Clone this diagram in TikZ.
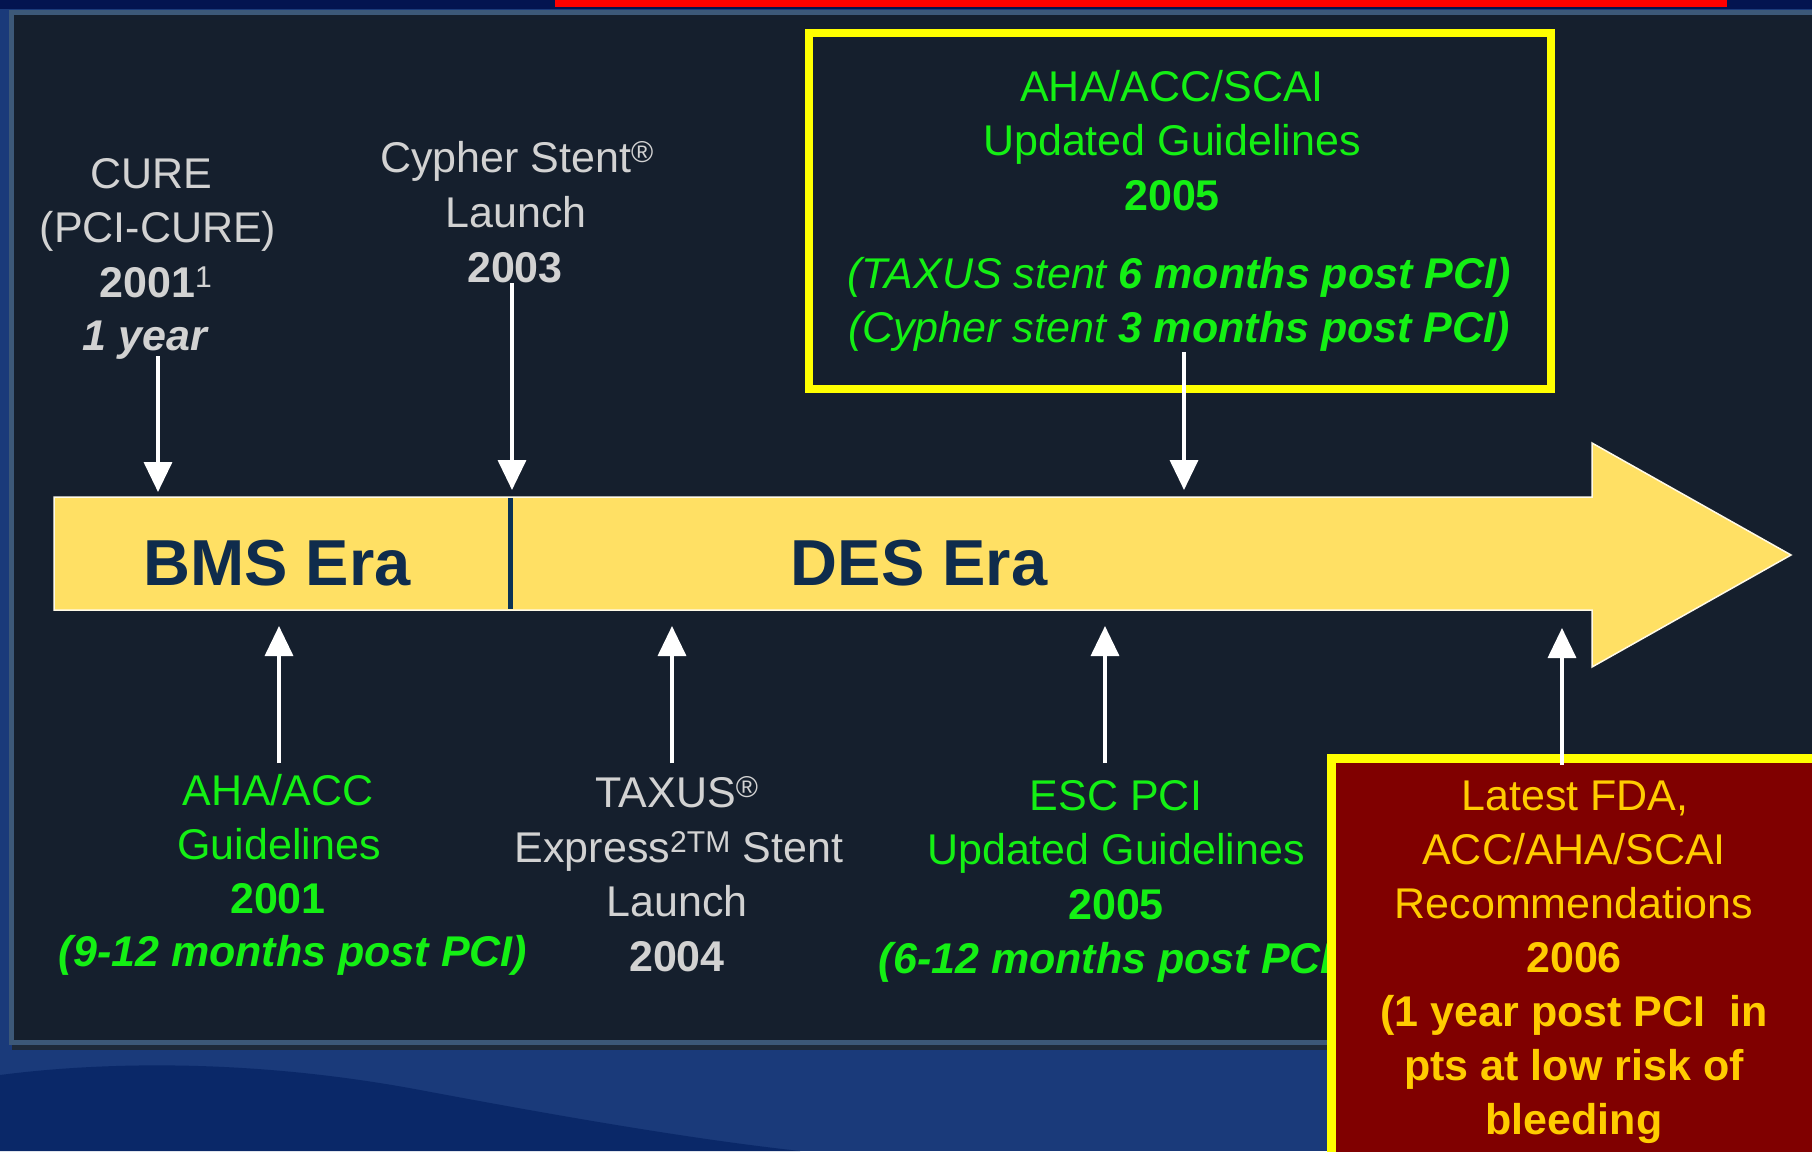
\documentclass[tikz,border=0pt]{standalone}
\usepackage{fontspec}
\setmainfont{Liberation Sans}
\usetikzlibrary{arrows.meta}
\definecolor{navytop}{RGB}{3,20,80}
\definecolor{bgblue}{RGB}{26,58,122}
\definecolor{wavecol}{RGB}{10,40,104}
\definecolor{panelcol}{RGB}{21,31,45}
\definecolor{panelrim}{RGB}{60,88,120}
\definecolor{panelshadow}{RGB}{30,42,58}
\definecolor{barred}{RGB}{255,0,0}
\definecolor{arrowyellow}{RGB}{255,224,100}
\definecolor{dividercol}{RGB}{10,50,85}
\definecolor{eratext}{RGB}{15,44,76}
\definecolor{graytextcol}{RGB}{210,210,210}
\definecolor{greentextcol}{RGB}{20,240,20}
\definecolor{boxyellow}{RGB}{255,255,0}
\definecolor{boxred}{RGB}{128,0,0}
\definecolor{goldtextcol}{RGB}{255,204,0}
\begin{document}
\begin{tikzpicture}[x=1pt,y=-1pt,
  txtline/.style={anchor=base,inner sep=0pt,font=\fontsize{43}{54}\selectfont},
  graytxt/.style={txtline,text=graytextcol},
  greentxt/.style={txtline,text=greentextcol},
  goldtxt/.style={txtline,text=goldtextcol},
  eralabel/.style={anchor=base,inner sep=0pt,text=eratext,font=\fontsize{65}{70}\selectfont\bfseries},
  evtarrow/.style={draw=white,line width=3.5pt,-{Triangle[width=28pt,length=30pt]}},
]
\useasboundingbox (0,0) rectangle (1812,1151);
% background
\fill[bgblue] (0,0) rectangle (1812,1151);
\fill[wavecol] (0,1075) .. controls (100,1062) and (250,1058) .. (420,1090) .. controls (580,1120) and (700,1140) .. (800,1151) -- (0,1151) -- cycle;
\fill[navytop] (0,0) rectangle (1812,9);
\fill[barred] (555,0) rectangle (1727,7);
% panel
\fill[panelshadow] (12,1043) rectangle (1812,1050);
\filldraw[fill=panelcol,draw=panelrim,line width=5pt] (11.5,12) rectangle (1830,1042);
% timeline arrow
\filldraw[fill=arrowyellow,draw=white!85!arrowyellow,line width=1.5pt]
  (54,497) -- (1592,497) -- (1592,443) -- (1791,555) -- (1592,667) -- (1592,610) -- (54,610) -- cycle;
\draw[dividercol,line width=5pt] (510,498) -- (510,609);
\node[eralabel] (bms) at (277,585) {BMS Era};
\node[eralabel] (des) at (919,585) {DES Era};
% CURE
\node[graytxt] (cure1) at (151,188) {CURE};
\node[graytxt] (cure2) at (158,242) {(PCI-CURE)};
\node[graytxt] (cure3) at (156,297) {\textbf{2001}\textsuperscript{1}};
\node[graytxt] (cure4) at (146,350) {\textbf{\textit{1 year}}};
% Cypher
\node[graytxt] (cy1) at (517,172) {Cypher Stent\textsuperscript{®}};
\node[graytxt] (cy2) at (516,227) {Launch};
\node[graytxt] (cy3) at (515,282) {\textbf{2003}};
% top box
\draw[boxyellow,line width=8pt] (809,33) rectangle (1551,389);
\node[greentxt] (ah1) at (1172,101) {AHA/ACC/SCAI};
\node[greentxt] (ah2) at (1172,155) {Updated Guidelines};
\node[greentxt] (ah3) at (1172,210) {\textbf{2005}};
\node[greentxt] (ah4) at (1179,288) {\textit{(TAXUS stent \textbf{6 months post PCI)}}};
\node[greentxt] (ah5) at (1179,342) {\textit{(Cypher stent \textbf{3 months post PCI)}}};
% bottom labels
\node[greentxt] (aa1) at (278,805) {AHA/ACC};
\node[greentxt] (aa2) at (279,859) {Guidelines};
\node[greentxt] (aa3) at (278,913) {\textbf{2001}};
\node[greentxt] (aa4) at (293,966) {\textbf{\textit{(9-12 months post PCI)}}};
\node[graytxt] (tx1) at (677,807) {TAXUS\textsuperscript{®}};
\node[graytxt] (tx2) at (679,862) {Express\textsuperscript{2TM} Stent};
\node[graytxt] (tx3) at (677,916) {Launch};
\node[graytxt] (tx4) at (677,971) {\textbf{2004}};
\node[greentxt] (es1) at (1116,810) {ESC PCI};
\node[greentxt] (es2) at (1116,864) {Updated Guidelines};
\node[greentxt] (es3) at (1116,919) {\textbf{2005}};
\node[greentxt] (es4) at (1113,973) {\textbf{\textit{(6-12 months post PCI)}}};
% arrow coordinates
\coordinate (cureS) at (158,356); \coordinate (cureT) at (158,492);
\coordinate (cyS) at (512,283); \coordinate (cyT) at (512,490);
\coordinate (ahS) at (1184,352); \coordinate (ahT) at (1184,490);
\coordinate (aaS) at (279,763); \coordinate (aaT) at (279,626);
\coordinate (txS) at (672,763); \coordinate (txT) at (672,626);
\coordinate (esS) at (1105,763); \coordinate (esT) at (1105,626);
\coordinate (fdS) at (1562,765); \coordinate (fdT) at (1562,628);
\draw[evtarrow] (cureS) -- (cureT);
\draw[evtarrow] (cyS) -- (cyT);
\draw[evtarrow] (ahS) -- (ahT);
\draw[evtarrow] (aaS) -- (aaT);
\draw[evtarrow] (txS) -- (txT);
\draw[evtarrow] (esS) -- (esT);
% red box
\filldraw[fill=boxred,draw=boxyellow,line width=8.7pt] (1331.5,758.5) rectangle (1830,1170);
\draw[evtarrow] (fdS) -- (fdT);
\node[goldtxt] (fd1) at (1575,810) {Latest FDA,};
\node[goldtxt] (fd2) at (1574,864) {ACC/AHA/SCAI};
\node[goldtxt] (fd3) at (1574,918) {Recommendations};
\node[goldtxt] (fd4) at (1574,972) {\textbf{2006}};
\node[goldtxt] (fd5) at (1574,1026) {\textbf{(1 year post PCI\ \ in}};
\node[goldtxt] (fd6) at (1574,1080) {\textbf{pts at low risk of}};
\node[goldtxt] (fd7) at (1574,1134) {\textbf{bleeding}};
\end{tikzpicture}
\end{document}
